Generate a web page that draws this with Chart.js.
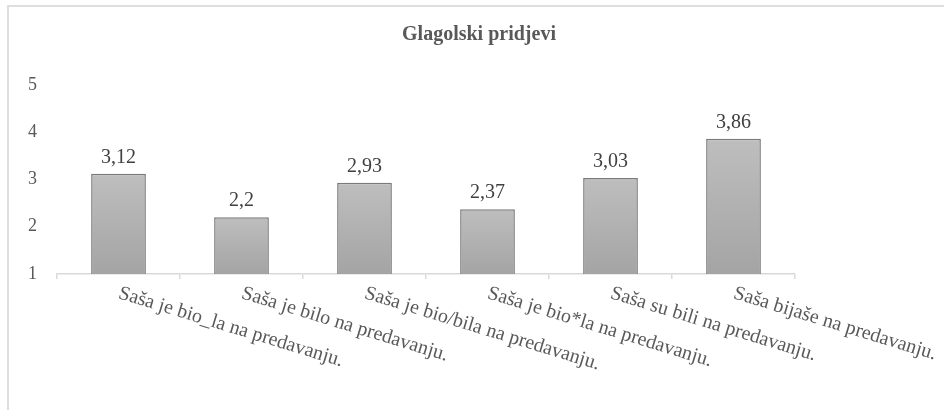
<!DOCTYPE html>
<html lang="hr">
<head>
    <meta charset="UTF-8">
    <title>Glagolski pridjevi</title>
    <script src="https://cdn.jsdelivr.net/npm/chart.js"></script>
    <style>
        * { margin: 0; padding: 0; box-sizing: border-box; }
        body { background: #fff; width: 944px; height: 410px; overflow: hidden; position: relative; }
        .okvir {
            position: absolute; left: 7px; top: 5px; width: 980px; height: 440px;
            border-top: 2px solid #dedede; border-left: 2px solid #dedede;
        }
        canvas { position: absolute; left: 0; top: 0; }
    </style>
</head>
<body>
    <div class="okvir"></div>
    <canvas id="graf" width="944" height="410"></canvas>

    <script>
        // podaci s grafa
        const naslov = 'Glagolski pridjevi';
        const recenice = [
            'Saša je bio_la na predavanju.',
            'Saša je bilo na predavanju.',
            'Saša je bio/bila na predavanju.',
            'Saša je bio*la na predavanju.',
            'Saša su bili na predavanju.',
            'Saša bijaše na predavanju.'
        ];
        const ocjene = [3.12, 2.2, 2.93, 2.37, 3.03, 3.86];
        const yOznake = [1, 2, 3, 4, 5];

        const serif = "'Liberation Serif', 'Times New Roman', serif";

        // naslov je centriran na cijelu sliku, ne na područje grafa
        const naslovGrafa = {
            id: 'naslovGrafa',
            afterDraw(chart) {
                const ctx = chart.ctx;
                ctx.save();
                ctx.font = 'bold 20px ' + serif;
                ctx.fillStyle = '#595959';
                ctx.textAlign = 'center';
                ctx.textBaseline = 'middle';
                ctx.fillText(naslov, 479, 35);
                ctx.restore();
            }
        };

        // vrijednosti iznad stupaca
        const oznakeVrijednosti = {
            id: 'oznakeVrijednosti',
            afterDatasetsDraw(chart) {
                const ctx = chart.ctx;
                const meta = chart.getDatasetMeta(0);
                ctx.save();
                ctx.font = '20px ' + serif;
                ctx.fillStyle = '#404040';
                ctx.textAlign = 'center';
                ctx.textBaseline = 'alphabetic';
                meta.data.forEach((bar, i) => {
                    ctx.fillText(String(ocjene[i]).replace('.', ','), bar.x, bar.y - 11);
                });
                ctx.restore();
            }
        };

        // nakošene oznake kategorija (udesno prema dolje)
        const kosiNatpisi = {
            id: 'kosiNatpisi',
            afterDraw(chart) {
                const ctx = chart.ctx;
                const x = chart.scales.x;
                ctx.save();
                ctx.font = '20px ' + serif;
                ctx.fillStyle = '#595959';
                ctx.textAlign = 'left';
                ctx.textBaseline = 'alphabetic';
                recenice.forEach((t, i) => {
                    ctx.save();
                    ctx.translate(x.getPixelForValue(i) - 1, x.top + 24);
                    ctx.rotate(17 * Math.PI / 180);
                    ctx.fillText(t, 0, 0);
                    ctx.restore();
                });
                ctx.restore();
            }
        };

        new Chart(document.getElementById('graf'), {
            type: 'bar',
            data: {
                labels: recenice,
                datasets: [{
                    data: ocjene,
                    backgroundColor(c) {
                        const chart = c.chart;
                        const area = chart.chartArea;
                        if (!area || c.parsed === undefined) return '#b0b0b0';
                        const top = chart.scales.y.getPixelForValue(c.parsed.y);
                        const g = chart.ctx.createLinearGradient(0, top, 0, area.bottom);
                        g.addColorStop(0, '#bebebe');
                        g.addColorStop(1, '#a4a4a4');
                        return g;
                    },
                    borderColor: '#7a7a7a',
                    borderWidth: 1.5,
                    categoryPercentage: 1,
                    barPercentage: 0.445
                }]
            },
            options: {
                responsive: false,
                animation: false,
                layout: { padding: { left: 0, right: 149, top: 85, bottom: 0 } },
                plugins: {
                    legend: { display: false },
                    tooltip: { enabled: false },
                    title: { display: false }
                },
                scales: {
                    x: {
                        grid: {
                            offset: true,
                            drawOnChartArea: false,
                            drawTicks: true,
                            tickLength: 5,
                            color: '#d9d9d9',
                            lineWidth: 1.5
                        },
                        border: { display: true, color: '#d9d9d9', width: 1.5 },
                        ticks: { display: false },
                        afterFit(s) { s.height = 410 - 274; }
                    },
                    y: {
                        min: yOznake[0],
                        max: yOznake[yOznake.length - 1],
                        grid: { display: false, drawTicks: false },
                        border: { display: false },
                        ticks: {
                            stepSize: 1,
                            padding: 20,
                            color: '#595959',
                            font: { family: serif, size: 18 }
                        },
                        afterFit(s) { s.width = 57; }
                    }
                }
            },
            plugins: [oznakeVrijednosti, kosiNatpisi, naslovGrafa]
        });
    </script>
</body>
</html>
